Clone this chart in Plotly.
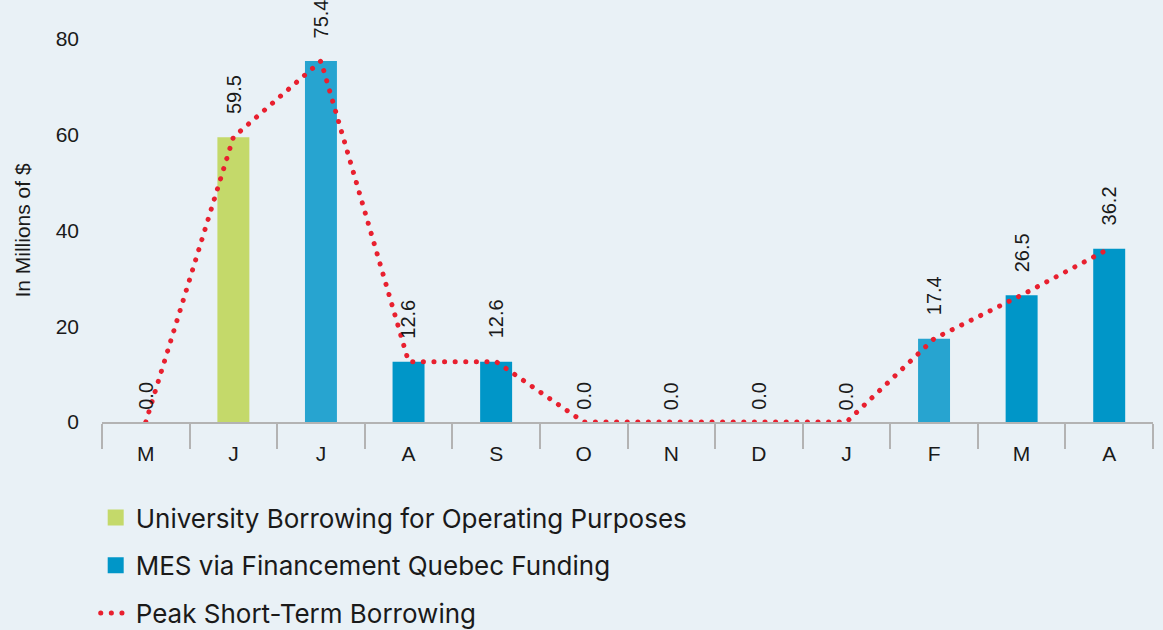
import plotly.graph_objects as go

months = ["M", "J", "J", "A", "S", "O", "N", "D", "J", "F", "M", "A"]
university = [None, 59.5, None, None, None, None, None, None, None, None, None, None]
mes = [None, None, 75.4, 12.6, 12.6, None, None, None, None, 17.4, 26.5, 36.2]
peak = [0.0, 59.5, 75.4, 12.6, 12.6, 0.0, 0.0, 0.0, 0.0, 17.4, 26.5, 36.2]
y_ticks = [0, 20, 40, 60, 80]

x = list(range(len(months)))
GREEN = "#c4d96a"
BLUE = "#0096c8"
LBLUE = "#27a4d0"
mes_colors = [LBLUE if i in (2, 9) else BLUE for i in x]

BG = "#e9f1f6"
TXT = "#1a1a1a"
AXF = "Liberation Sans, Arial, sans-serif"

W, H = 1163, 630
TOP = 39
PLOT_BOTTOM_PX = 422
paper_h = H - TOP
dom_lo = (H - PLOT_BOTTOM_PX) / paper_h

fig = go.Figure()
fig.add_trace(go.Bar(x=x, y=university, name="University Borrowing for Operating Purposes",
                     marker=dict(color=GREEN, line=dict(width=0)), width=0.365,
                     legendgroup="a"))
fig.add_trace(go.Bar(x=x, y=mes, name="MES via Financement Quebec Funding",
                     marker=dict(color=mes_colors, line=dict(width=0)), width=0.365,
                     legendgroup="b"))
fig.add_trace(go.Scatter(x=x, y=peak, mode="lines", name="Peak Short-Term Borrowing",
                         line=dict(color="#e8202f", width=5, dash="0.1px,10.5px"),
                         legendgroup="c"))

for i, v in enumerate(peak):
    fig.add_annotation(x=i, y=v, text=f"{v:.1f}", textangle=-90, showarrow=False,
                       xanchor="center", yanchor="bottom", yshift=(10 if v == 0 else 21),
                       font=dict(family=AXF, size=20, color=TXT))

fig.update_layout(
    width=W, height=H,
    paper_bgcolor=BG, plot_bgcolor=BG,
    margin=dict(l=102, r=10, t=TOP, b=0, autoexpand=False),
    barmode="overlay",
    showlegend=True,
    legend=dict(x=-0.006, y=(H - 494) / paper_h, xanchor="left", yanchor="top",
                orientation="v", traceorder="grouped", tracegroupgap=11,
                font=dict(family="Inter, sans-serif", size=26, color=TXT),
                bgcolor="rgba(0,0,0,0)", itemwidth=30),
    font=dict(family=AXF, color=TXT),
)
fig.update_xaxes(range=[-0.5, 11.5], tickmode="array", tickvals=x, ticktext=months,
                 ticks="", showgrid=False, zeroline=False,
                 showline=True, linecolor="#b3b3b3", linewidth=1.5,
                 tickfont=dict(family=AXF, size=21, color=TXT), ticklabelstandoff=12,
                 minor=dict(tickmode="array", tickvals=[i - 0.5 for i in range(len(months) + 1)],
                            ticks="outside", ticklen=25, tickcolor="#b3b3b3", tickwidth=1.5,
                            showgrid=False))
fig.update_yaxes(domain=[dom_lo, 1], range=[0, 80], tickmode="array", tickvals=y_ticks,
                 showgrid=False, zeroline=False, showline=False, ticks="",
                 tickfont=dict(family=AXF, size=21, color=TXT), ticklabelstandoff=22,
                 title=dict(text="In Millions of $", font=dict(family=AXF, size=21, color=TXT),
                            standoff=19))

post = """
document.body.style.margin='0';
document.body.style.background='%s';
function fixCaps(){
  document.querySelectorAll('path.js-line, .legendlines path').forEach(function(p){p.style.strokeLinecap='round';});
  document.querySelectorAll('.legendpoints path').forEach(function(p){p.setAttribute('d','M8,8H-8V-8H8Z');});
}
fixCaps();
var gd=document.getElementsByClassName('plotly-graph-div')[0];
if(gd&&gd.on){gd.on('plotly_afterplot',fixCaps);}
""" % BG
fig.write_html("out.html", post_script=post, config={"displayModeBar": False})
